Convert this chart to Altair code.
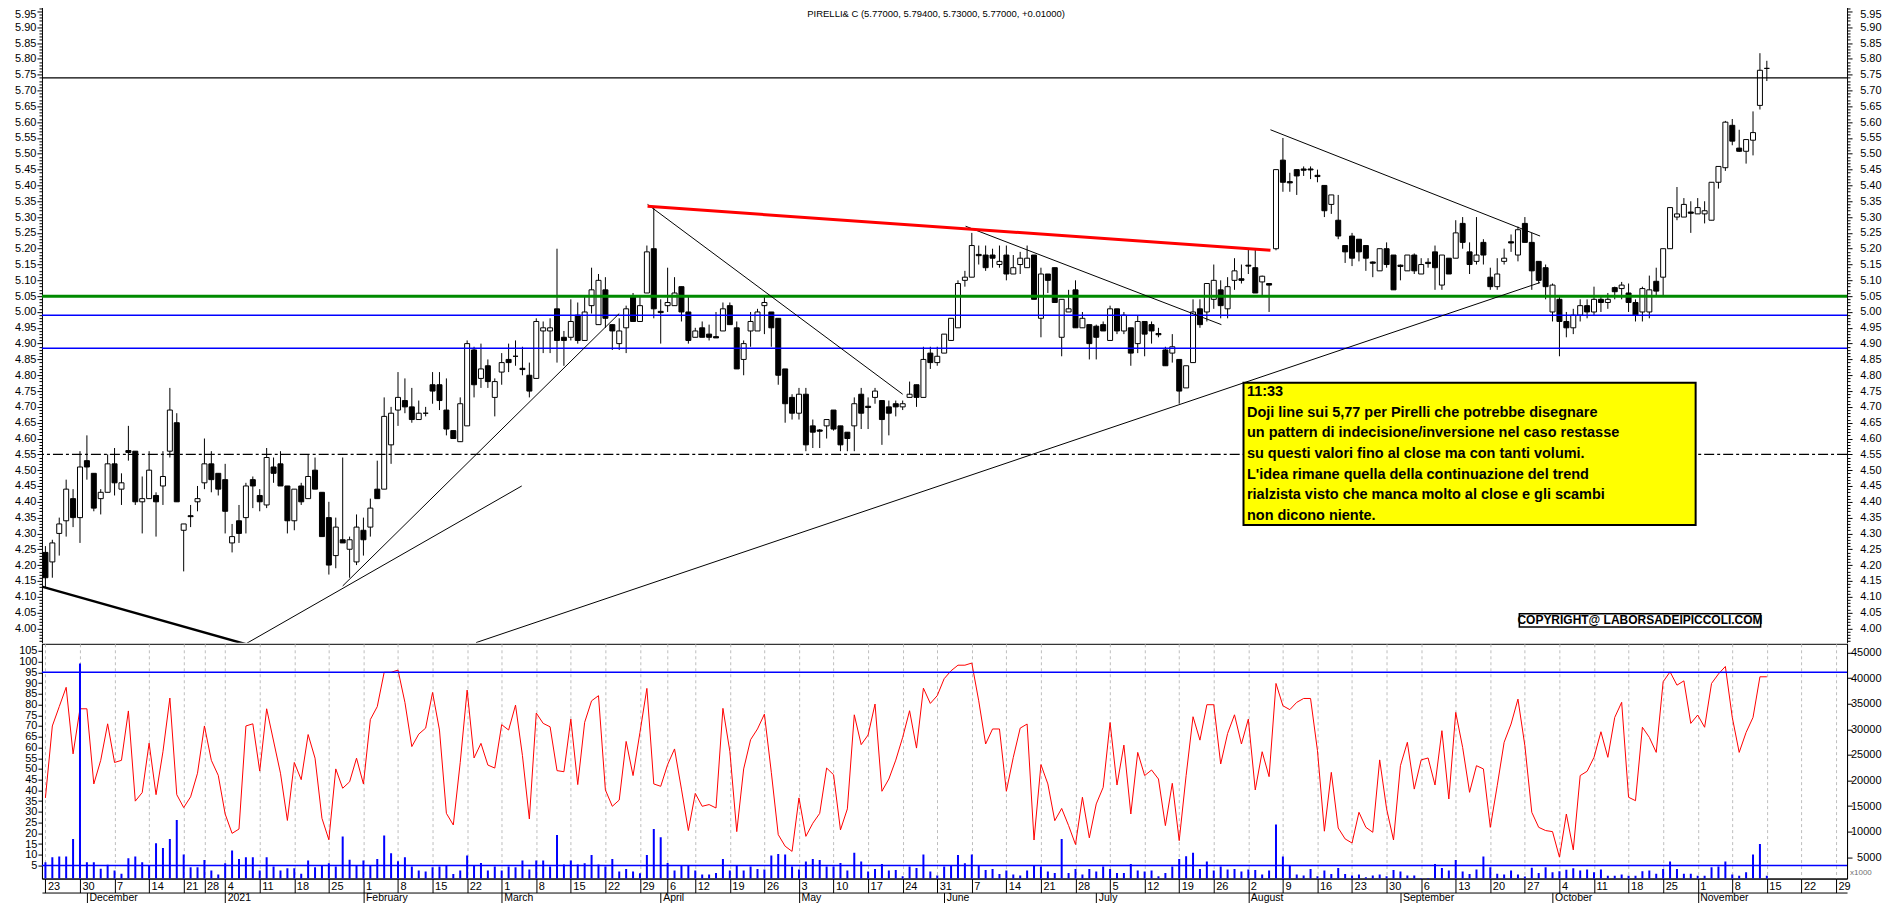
import altair as alt
import pandas as pd

# ---------------- data ----------------
OPEN = [4.24, 4.21, 4.30, 4.34, 4.41, 4.35, 4.53, 4.49, 4.41, 4.43,
        4.52, 4.44, 4.562, 4.56, 4.40, 4.41, 4.42, 4.45, 4.56, 4.65,
        4.31, 4.356, 4.40, 4.46, 4.52, 4.49, 4.47, 4.27, 4.34, 4.35,
        4.47, 4.42, 4.39, 4.51, 4.52, 4.45, 4.34, 4.45, 4.41, 4.50,
        4.43, 4.35, 4.23, 4.28, 4.25, 4.21, 4.31, 4.32, 4.44, 4.44,
        4.58, 4.69, 4.72, 4.70, 4.66, 4.68, 4.77, 4.77, 4.69, 4.625,
        4.59, 4.64, 4.88, 4.79, 4.83, 4.73, 4.81, 4.85, 4.86, 4.822,
        4.80, 4.79, 4.94, 4.94, 5.01, 4.92, 4.92, 4.99, 4.91, 5.02,
        4.96, 5.07, 4.96, 4.90, 4.95, 5.05, 4.97, 5.06, 5.20, 5.002,
        5.02, 5.02, 5.08, 5.00, 4.92, 4.95, 4.93, 4.922, 4.94, 5.02,
        4.95, 4.85, 4.94, 4.94, 5.02, 5.00, 4.98, 4.82, 4.73, 4.68,
        4.74, 4.64, 4.627, 4.64, 4.69, 4.64, 4.62, 4.64, 4.74, 4.702,
        4.73, 4.72, 4.70, 4.71, 4.70, 4.73, 4.77, 4.73, 4.87, 4.84,
        4.87, 4.91, 4.95, 5.10, 5.11, 5.182, 5.18, 5.18, 5.15, 5.18,
        5.12, 5.15, 5.14, 5.18, 4.98, 5.12, 5.14, 4.92, 5.00, 5.07,
        4.95, 4.96, 4.955, 4.96, 4.91, 5.01, 4.94, 4.95, 4.90, 4.97,
        4.96, 4.932, 4.88, 4.87, 4.85, 4.76, 4.84, 5.01, 5.00, 5.04,
        5.07, 5.01, 5.10, 5.105, 5.148, 5.14, 5.095, 5.09, 5.20, 5.48,
        5.412, 5.45, 5.452, 5.452, 5.432, 5.40, 5.34, 5.29, 5.21, 5.24,
        5.23, 5.21, 5.158, 5.13, 5.20, 5.18, 5.148, 5.13, 5.18, 5.12,
        5.157, 5.19, 5.085, 5.17, 5.17, 5.28, 5.19, 5.16, 5.22, 5.11,
        5.08, 5.16, 5.222, 5.18, 5.28, 5.22, 5.16, 5.14, 5.00, 5.04,
        4.97, 4.95, 4.99, 5.02, 5.00, 5.04, 5.03, 5.077, 5.074, 5.06,
        5.03, 5.00, 5.00, 5.097, 5.11, 5.20, 5.30, 5.30, 5.316, 5.31,
        5.31, 5.29, 5.41, 5.456, 5.59, 5.518, 5.508, 5.543, 5.653, 5.77]
HIGH = [4.26, 4.28, 4.35, 4.47, 4.44, 4.56, 4.61, 4.49, 4.44, 4.55,
        4.57, 4.49, 4.64, 4.56, 4.48, 4.56, 4.43, 4.56, 4.76, 4.68,
        4.33, 4.39, 4.45, 4.60, 4.56, 4.49, 4.52, 4.33, 4.39, 4.46,
        4.48, 4.44, 4.57, 4.54, 4.56, 4.45, 4.44, 4.46, 4.55, 4.54,
        4.43, 4.40, 4.35, 4.54, 4.29, 4.36, 4.35, 4.41, 4.53, 4.73,
        4.70, 4.81, 4.79, 4.76, 4.72, 4.70, 4.81, 4.81, 4.79, 4.625,
        4.73, 4.91, 4.89, 4.90, 4.85, 4.79, 4.87, 4.90, 4.91, 4.89,
        4.84, 4.98, 4.97, 4.98, 5.20, 4.94, 5.04, 5.03, 5.05, 5.14,
        5.12, 5.11, 4.96, 4.98, 5.02, 5.06, 5.05, 5.21, 5.33, 5.04,
        5.14, 5.11, 5.08, 5.05, 4.95, 4.97, 4.96, 5.00, 5.03, 5.03,
        4.97, 4.91, 5.00, 5.01, 5.05, 5.00, 4.98, 4.82, 4.74, 4.76,
        4.76, 4.66, 4.63, 4.66, 4.69, 4.64, 4.62, 4.73, 4.76, 4.73,
        4.76, 4.72, 4.72, 4.72, 4.72, 4.78, 4.77, 4.89, 4.89, 4.89,
        4.93, 4.98, 5.10, 5.13, 5.25, 5.21, 5.21, 5.20, 5.21, 5.21,
        5.18, 5.19, 5.21, 5.18, 5.14, 5.12, 5.14, 5.04, 5.07, 5.10,
        5.00, 4.96, 4.96, 4.97, 5.02, 5.01, 5.00, 4.95, 4.99, 4.97,
        4.97, 4.95, 4.89, 4.93, 4.85, 4.83, 5.04, 5.04, 5.09, 5.15,
        5.10, 5.11, 5.17, 5.15, 5.20, 5.20, 5.115, 5.09, 5.45, 5.55,
        5.44, 5.45, 5.46, 5.46, 5.45, 5.40, 5.37, 5.37, 5.21, 5.25,
        5.23, 5.21, 5.16, 5.20, 5.22, 5.18, 5.15, 5.18, 5.185, 5.17,
        5.17, 5.21, 5.18, 5.17, 5.29, 5.30, 5.22, 5.30, 5.23, 5.14,
        5.17, 5.20, 5.245, 5.27, 5.30, 5.25, 5.16, 5.15, 5.09, 5.05,
        5.00, 5.01, 5.04, 5.04, 5.08, 5.05, 5.06, 5.08, 5.095, 5.09,
        5.04, 5.08, 5.115, 5.14, 5.20, 5.33, 5.395, 5.36, 5.35, 5.36,
        5.35, 5.41, 5.46, 5.604, 5.61, 5.576, 5.545, 5.634, 5.818, 5.794]
LOW = [4.13, 4.16, 4.23, 4.29, 4.32, 4.27, 4.47, 4.37, 4.36, 4.43,
       4.42, 4.39, 4.53, 4.39, 4.30, 4.41, 4.29, 4.39, 4.54, 4.40,
       4.18, 4.32, 4.37, 4.44, 4.43, 4.42, 4.30, 4.24, 4.27, 4.30,
       4.38, 4.37, 4.38, 4.46, 4.45, 4.30, 4.31, 4.39, 4.41, 4.44,
       4.29, 4.17, 4.19, 4.27, 4.16, 4.20, 4.23, 4.29, 4.41, 4.44,
       4.52, 4.64, 4.68, 4.65, 4.66, 4.67, 4.71, 4.69, 4.61, 4.60,
       4.59, 4.64, 4.73, 4.76, 4.76, 4.67, 4.77, 4.81, 4.83, 4.80,
       4.73, 4.79, 4.87, 4.87, 4.84, 4.83, 4.91, 4.90, 4.91, 4.995,
       4.96, 4.95, 4.88, 4.88, 4.87, 4.97, 4.97, 5.06, 4.98, 4.90,
       5.00, 5.02, 4.97, 4.90, 4.92, 4.92, 4.91, 4.92, 4.94, 4.96,
       4.82, 4.80, 4.89, 4.94, 4.93, 4.89, 4.77, 4.65, 4.66, 4.66,
       4.56, 4.57, 4.57, 4.60, 4.625, 4.56, 4.56, 4.56, 4.63, 4.63,
       4.71, 4.58, 4.61, 4.67, 4.69, 4.73, 4.70, 4.73, 4.82, 4.83,
       4.87, 4.91, 4.95, 5.08, 5.11, 5.15, 5.13, 5.14, 5.14, 5.10,
       5.12, 5.12, 5.14, 5.04, 4.92, 5.06, 5.03, 4.86, 5.00, 4.95,
       4.95, 4.85, 4.85, 4.94, 4.91, 4.93, 4.93, 4.83, 4.87, 4.86,
       4.90, 4.92, 4.83, 4.84, 4.71, 4.76, 4.84, 4.95, 4.97, 5.01,
       4.98, 4.98, 5.07, 5.09, 5.12, 5.06, 5.05, 5.00, 5.195, 5.38,
       5.38, 5.37, 5.43, 5.42, 5.41, 5.30, 5.31, 5.23, 5.155, 5.145,
       5.16, 5.13, 5.11, 5.13, 5.14, 5.07, 5.10, 5.13, 5.12, 5.12,
       5.14, 5.07, 5.07, 5.12, 5.17, 5.20, 5.12, 5.15, 5.15, 5.07,
       5.07, 5.15, 5.19, 5.16, 5.22, 5.07, 5.09, 5.04, 4.97, 4.86,
       4.92, 4.93, 4.97, 4.98, 4.99, 5.00, 5.01, 5.04, 5.04, 5.00,
       4.97, 4.97, 4.98, 5.05, 5.05, 5.20, 5.29, 5.30, 5.25, 5.31,
       5.28, 5.29, 5.39, 5.446, 5.527, 5.506, 5.469, 5.495, 5.64, 5.73]
CLOSE = [4.16, 4.27, 4.33, 4.44, 4.35, 4.51, 4.51, 4.38, 4.43, 4.52,
         4.46, 4.46, 4.556, 4.40, 4.41, 4.50, 4.40, 4.48, 4.69, 4.40,
         4.33, 4.353, 4.41, 4.52, 4.47, 4.44, 4.37, 4.29, 4.30, 4.45,
         4.45, 4.40, 4.54, 4.49, 4.45, 4.34, 4.44, 4.40, 4.48, 4.44,
         4.29, 4.20, 4.32, 4.27, 4.28, 4.32, 4.28, 4.38, 4.41, 4.67,
         4.68, 4.73, 4.70, 4.66, 4.68, 4.68, 4.75, 4.72, 4.63, 4.60,
         4.71, 4.90, 4.77, 4.82, 4.78, 4.78, 4.84, 4.84, 4.86, 4.818,
         4.75, 4.97, 4.95, 4.95, 4.91, 4.91, 4.97, 4.91, 5.00, 5.07,
         5.10, 4.98, 4.94, 4.94, 5.01, 4.97, 5.02, 5.19, 5.01, 4.998,
         5.03, 5.06, 5.00, 4.91, 4.94, 4.92, 4.92, 4.918, 5.01, 4.96,
         4.82, 4.90, 4.97, 5.00, 5.03, 4.95, 4.80, 4.71, 4.68, 4.74,
         4.58, 4.62, 4.623, 4.66, 4.63, 4.58, 4.60, 4.71, 4.68, 4.698,
         4.75, 4.66, 4.68, 4.70, 4.71, 4.74, 4.73, 4.85, 4.84, 4.86,
         4.93, 4.98, 5.09, 5.11, 5.21, 5.178, 5.14, 5.17, 5.16, 5.12,
         5.14, 5.17, 5.17, 5.04, 5.12, 5.10, 5.03, 5.04, 5.01, 4.95,
         4.98, 4.90, 4.92, 4.94, 5.01, 4.94, 4.99, 4.87, 4.97, 4.93,
         4.94, 4.928, 4.83, 4.89, 4.75, 4.83, 5.00, 4.96, 5.09, 5.10,
         5.02, 5.08, 5.13, 5.10, 5.145, 5.06, 5.113, 5.085, 5.45, 5.41,
         5.408, 5.43, 5.448, 5.449, 5.428, 5.32, 5.37, 5.24, 5.19, 5.17,
         5.19, 5.17, 5.154, 5.20, 5.15, 5.07, 5.144, 5.18, 5.13, 5.15,
         5.153, 5.14, 5.18, 5.12, 5.25, 5.22, 5.15, 5.18, 5.18, 5.08,
         5.12, 5.17, 5.218, 5.26, 5.22, 5.13, 5.10, 5.08, 5.085, 4.97,
         4.95, 4.99, 5.02, 5.00, 5.04, 5.03, 5.04, 5.064, 5.085, 5.03,
         4.99, 5.074, 5.07, 5.066, 5.20, 5.33, 5.31, 5.34, 5.312, 5.33,
         5.32, 5.41, 5.46, 5.60, 5.54, 5.508, 5.545, 5.567, 5.764, 5.77]
OSC = [36.5, 70, 79, 88, 57, 78, 78, 43, 54, 71,
       53, 54, 77, 35, 39, 62, 38, 58, 83, 38,
       32, 37, 48, 70, 54, 47, 29, 20, 22, 70,
       71, 49, 78, 63, 48, 26, 53, 45, 66, 55,
       27, 17, 50, 41, 44, 55, 43, 73, 79, 95,
       95, 96, 81, 60.4, 66.2, 69, 85.6, 68.1, 29.3, 23.9,
       53, 86.7, 55.1, 61.9, 51.8, 50.4, 70.6, 68.1, 79.7, 56.2,
       26.7, 76, 71.2, 69.6, 49.2, 48.7, 73.2, 42.7, 71.7, 81.7,
       84.1, 40.2, 32.6, 35.5, 62.8, 46.9, 67, 87.5, 43, 41.9,
       52, 59.3, 40.6, 21.3, 38.6, 32.6, 33.4, 31.8, 78.2, 58.2,
       20.8, 50, 63.6, 68.6, 75.5, 48.4, 19.4, 14, 11.6, 36.5,
       18.6, 24.7, 29.3, 50.4, 47.3, 21.6, 31.4, 75.2, 61.3, 65.8,
       80.2, 39.6, 45.3, 54.1, 64.7, 77.1, 59.7, 87.6, 80.5, 84.1,
       92, 95.7, 98.3, 98.3, 99.3, 81.7, 61.6, 68.6, 68.6, 39.6,
       55.4, 69, 70.9, 16.9, 52, 43, 25.9, 31.6, 23.6, 14.8,
       36.8, 17.9, 33.7, 41.4, 71.6, 42.5, 61.1, 29, 57.7, 46.9,
       49.5, 45.3, 23.6, 43.3, 16.6, 46.9, 74.3, 63.4, 79.9, 79.9,
       52.3, 66.5, 75.2, 61.6, 73.2, 40.2, 58, 46.4, 89.8, 79.4,
       77.6, 81, 82.8, 82.8, 58.5, 21, 48.4, 22.5, 17.4, 15.5,
       29.8, 22.8, 20.5, 54.2, 31.4, 16.9, 51.5, 62.4, 40.6, 54.2,
       55.1, 42.5, 67.8, 36, 76.3, 60, 39.1, 51.5, 50, 22.8,
       42.2, 62.4, 70.9, 82.5, 60.8, 29.8, 22.8, 21.3, 20.8, 8.9,
       29, 12.3, 46.9, 48.9, 55.4, 67.3, 55.4, 74, 81, 36.8,
       35.2, 69.4, 64.7, 57.7, 90.6, 95.2, 89, 91, 71.2, 75.1,
       69.4, 89.8, 94.2, 97.7, 74, 57.7, 67, 74, 92.9, 92.9]
VOLUME = [4025, 5000, 5130, 5130, 8590, 42850, 4025, 4025, 2740, 3520,
          2420, 1770, 4800, 5130, 4025, 3370, 7730, 6820, 8590, 12290,
          5520, 3070, 3070, 4480, 2420, 1640, 3830, 6300, 4670, 5000,
          5000, 2420, 5000, 3180, 2420, 2860, 2860, 1770, 4350, 3070,
          3370, 3830, 3180, 9050, 4540, 3370, 4350, 3370, 4670, 9240,
          5780, 4220, 5000, 3185, 2400, 2200, 3050, 3185, 3510, 1750,
          2400, 5330, 3510, 3900, 2400, 3185, 2400, 3185, 3050, 4350,
          2600, 4350, 4350, 3185, 9360, 3580, 4350, 3580, 3830, 5460,
          3580, 3185, 4680, 2200, 2730, 2200, 1880, 5460, 10530, 8900,
          3900, 2400, 3510, 3510, 2400, 1620, 1620, 1940, 4680, 2400,
          3510, 2400, 3185, 2730, 2600, 5330, 5650, 5530, 3185, 2600,
          4160, 4680, 4480, 3185, 3185, 3900, 2400, 5860, 4160, 2200,
          2730, 3700, 2400, 2530, 1290, 3185, 2920, 5530, 2200, 1420,
          3185, 3510, 5460, 3830, 5530, 3510, 2530, 2730, 1750, 2400,
          1620, 1420, 2400, 3510, 3185, 2200, 1940, 8590, 1940, 2730,
          1620, 2730, 2200, 3185, 2730, 1940, 1940, 3700, 2400, 2200,
          2400, 1290, 1940, 3185, 4680, 5200, 5860, 2730, 4160, 2400,
          3185, 2600, 2730, 2200, 2600, 2530, 1620, 2400, 11380, 5140,
          3510, 1620, 1420, 2730, 1290, 2400, 1750, 2920, 1750, 1420,
          1620, 1100, 1420, 1620, 1290, 2530, 2200, 1420, 1420, 970,
          970, 3700, 2920, 2400, 4480, 2200, 1750, 2600, 5140, 3050,
          1760, 1630, 2400, 1630, 1230, 2930, 1950, 3050, 2070, 2270,
          2540, 2860, 2400, 2600, 2070, 2600, 1370, 1370, 1630, 1370,
          1370, 2270, 2400, 1760, 2730, 4160, 2730, 1760, 1760, 1370,
          1370, 3050, 3180, 4160, 1630, 1370, 2070, 5530, 7610, 1370]

HOLIDAYS = ["2020-12-24", "2020-12-25", "2020-12-31", "2021-01-01",
            "2021-04-02", "2021-04-05"]
MONTHS = ["January", "February", "March", "April", "May", "June", "July",
          "August", "September", "October", "November", "December"]

# horizontal levels
LEVEL_BLACK = [5.74]
LEVEL_GREEN = [5.05]
LEVEL_BLUE = [4.99, 4.885]
LEVEL_DASHDOT = [4.55]
OSC_LEVELS = [95, 5]

# trend lines (session index, price)
LINE_NAME = ["base", "feb", "jan", "apr", "res", "jun", "sup", "aug"]
LINE_STYLE = ["thick", "thin", "thin", "thin", "red", "thin", "thin", "thin"]
LINE_X0 = [-0.5, 28.9, 43.0, 87.1, 87.1, 133.1, 62.3, 177.2]
LINE_P0 = [4.132, 3.950, 4.134, 5.340, 5.334, 5.271, 3.955, 5.576]
LINE_X1 = [29.0, 68.9, 83.0, 124.0, 177.2, 170.1, 216.2, 216.2]
LINE_P1 = [3.950, 4.450, 4.995, 4.740, 5.195, 4.960, 5.093, 5.240]

TITLE = "PIRELLI& C (5.77000, 5.79400, 5.73000, 5.77000, +0.01000)"
NOTE_LINES = ["11:33",
              "Doji line sui 5,77 per Pirelli che potrebbe disegnare",
              "un pattern di indecisione/inversione nel caso restasse",
              "su questi valori fino al close ma con tanti volumi.",
              "L'idea rimane quella della continuazione del trend",
              "rialzista visto che manca molto al close e gli scambi",
              "non dicono niente."]
NOTE_BOX = {"x": 173.3, "x2": 238.7, "y": 4.776, "y2": 4.327}
NOTE_TEXT_POS = {"x": 173.8, "y": 4.747}
COPY_TEXT = "COPYRIGHT@ LABORSADEIPICCOLI.COM"
COPY_BOX = {"x": 213.2, "x2": 248.1, "y": 4.046, "y2": 4.004}
TITLE_X = 110.2

# ---------------- calendar / axis helpers ----------------
sessions = pd.bdate_range("2020-11-23", "2021-11-29", freq="C", holidays=HOLIDAYS)
week_idx, last = [], None
for i, d in enumerate(sessions):
    iso = d.isocalendar()
    key = (iso[0], iso[1])
    if key != last:
        week_idx.append(i)
        last = key
month_idx = [i for i in range(1, len(sessions)) if sessions[i].month != sessions[i - 1].month]
month_lab = [""] * len(sessions)
for i in month_idx:
    d = sessions[i]
    month_lab[i] = str(d.year) if d.month == 1 else MONTHS[d.month - 1]
day_lab = [str(d.day) for d in sessions]


def js_array(lst):
    return "[" + ",".join("'" + s + "'" for s in lst) + "]"


day_expr = js_array(day_lab) + "[datum.value]"
month_expr = js_array(month_lab) + "[datum.value]"

n = len(OPEN)
df = pd.DataFrame({"idx": list(range(n)),
                   "date": sessions[:n].strftime("%Y-%m-%d"),
                   "open": OPEN, "high": HIGH, "low": LOW, "close": CLOSE,
                   "osc": OSC, "volume": VOLUME})

lines_rows = []
for name, sty, x0, p0, x1, p1 in zip(LINE_NAME, LINE_STYLE, LINE_X0, LINE_P0, LINE_X1, LINE_P1):
    lines_rows.append({"line": name, "style": sty, "idx": x0, "price": p0})
    lines_rows.append({"line": name, "style": sty, "idx": x1, "price": p1})
lines_df = pd.DataFrame(lines_rows)

FONT = "Liberation Sans, Arial, sans-serif"
W = 1807
H_TOP = 643
H_BOT = 235
RIGHT_PAD = 29

xs = alt.Scale(domain=[-0.5, 260.6], nice=False, zero=False, padding=0)
ys = alt.Scale(domain=[3.9543, 5.9846], nice=False, zero=False, padding=0)
os_ = alt.Scale(domain=[-1.05, 108.26], nice=False, zero=False, padding=0)
vs = alt.Scale(domain=[844, 46697], nice=False, zero=False, padding=0)

price_ticks = [round(3.96 + 0.01 * i, 2) for i in range(203)]
major = "round(datum.value*100) % 5 == 0"
price_label = "(" + major + ") ? format(datum.value, '.2f') : ''"
tick_cond = {"condition": {"test": major, "value": 5}, "value": 3}
font_cond = {"condition": {"test": major, "value": 11}, "value": 0}
top_label_shift = {"condition": {"test": "datum.value > 5.94", "value": 3}, "value": 0}

x_top_axis = alt.Axis(values=week_idx, grid=True, gridDash=[3, 3], gridColor="#bdbdbd",
                      labels=False, ticks=False, domain=False, title=None)
left_price_axis = alt.Axis(orient="left", values=price_ticks, labelExpr=price_label,
                           tickSize=tick_cond, labelFontSize=font_cond, labelPadding=1,
                           labelOffset=top_label_shift,
                           labelOverlap=False, labelBound=False, grid=False, title=None)
right_price_axis = alt.Axis(orient="right", values=price_ticks, labelExpr=price_label,
                            tickSize=tick_cond, labelFontSize=font_cond, labelPadding=RIGHT_PAD,
                            labelOffset=top_label_shift,
                            labelAlign="right", labelOverlap=False, labelBound=False,
                            grid=False, title=None)

top_base = alt.Chart(df)
wicks = top_base.mark_rule(color="black", strokeWidth=1).encode(
    x=alt.X("idx:Q", scale=xs, axis=x_top_axis),
    y=alt.Y("low:Q", scale=ys, axis=left_price_axis),
    y2="high:Q")
bodies = top_base.mark_bar(size=5, stroke="black", strokeWidth=1).encode(
    x=alt.X("idx:Q", scale=xs, axis=None),
    y=alt.Y("open:Q", scale=ys, axis=None),
    y2="close:Q",
    fill=alt.condition("datum.close >= datum.open", alt.value("white"), alt.value("black")))

lvl_black = alt.Chart(pd.DataFrame({"level": LEVEL_BLACK})).mark_rule(
    color="black", strokeWidth=1.2).encode(y=alt.Y("level:Q", scale=ys, axis=right_price_axis))
lvl_green = alt.Chart(pd.DataFrame({"level": LEVEL_GREEN})).mark_rule(
    color="#008a00", strokeWidth=3).encode(y=alt.Y("level:Q", scale=ys, axis=None))
lvl_blue = alt.Chart(pd.DataFrame({"level": LEVEL_BLUE})).mark_rule(
    color="#0000ff", strokeWidth=1.5).encode(y=alt.Y("level:Q", scale=ys, axis=None))
lvl_dd = alt.Chart(pd.DataFrame({"level": LEVEL_DASHDOT})).mark_rule(
    color="black", strokeWidth=1.3, strokeDash=[10, 3, 3, 3]).encode(
    y=alt.Y("level:Q", scale=ys, axis=None))


def trend(style, color, width):
    return alt.Chart(lines_df).transform_filter(
        alt.datum.style == style).mark_line(color=color, strokeWidth=width, clip=True).encode(
        x=alt.X("idx:Q", scale=xs, axis=None),
        y=alt.Y("price:Q", scale=ys, axis=None),
        detail="line:N")


thin_lines = trend("thin", "black", 1)
thick_lines = trend("thick", "black", 2.5)
red_lines = trend("red", "#ff0000", 3)

note_box = alt.Chart(pd.DataFrame([NOTE_BOX])).mark_rect(
    fill="#ffff00", stroke="black", strokeWidth=2).encode(
    x=alt.X("x:Q", scale=xs, axis=None), x2="x2:Q",
    y=alt.Y("y:Q", scale=ys, axis=None), y2="y2:Q")
note_text = alt.Chart(pd.DataFrame([{**NOTE_TEXT_POS, "txt": "\n".join(NOTE_LINES)}])).mark_text(
    align="left", baseline="middle", font=FONT, fontSize=14.5, fontWeight="bold",
    lineBreak="\n", lineHeight=20.7, color="black").encode(
    x=alt.X("x:Q", scale=xs, axis=None), y=alt.Y("y:Q", scale=ys, axis=None), text="txt:N")

copy_box = alt.Chart(pd.DataFrame([COPY_BOX])).mark_rect(
    fill="white", stroke="black", strokeWidth=1.5).encode(
    x=alt.X("x:Q", scale=xs, axis=None), x2="x2:Q",
    y=alt.Y("y:Q", scale=ys, axis=None), y2="y2:Q")
copy_text = alt.Chart(pd.DataFrame([{"x": (COPY_BOX["x"] + COPY_BOX["x2"]) / 2,
                                     "y": (COPY_BOX["y"] + COPY_BOX["y2"]) / 2,
                                     "txt": COPY_TEXT}])).mark_text(
    align="center", baseline="middle", font=FONT, fontSize=12, fontWeight="bold",
    color="black").encode(
    x=alt.X("x:Q", scale=xs, axis=None), y=alt.Y("y:Q", scale=ys, axis=None), text="txt:N")

title_text = alt.Chart(pd.DataFrame([{"x": TITLE_X, "txt": TITLE}])).mark_text(
    align="left", baseline="top", font=FONT, fontSize=9.5, color="black").encode(
    x=alt.X("x:Q", scale=xs, axis=None), y=alt.value(9), text="txt:N")

top = alt.layer(wicks, bodies, lvl_black, lvl_green, lvl_blue, lvl_dd,
                thin_lines, thick_lines, red_lines,
                note_box, note_text, copy_box, copy_text, title_text).resolve_axis(
    y="independent").properties(width=W, height=H_TOP)

# ---------------- bottom panel ----------------
day_axis = alt.Axis(orient="bottom", values=week_idx, labelExpr=day_expr, labelAlign="left",
                    labelOffset=2, labelBaseline="top", labelPadding=-12, tickSize=14,
                    grid=True, gridDash=[3, 3], gridColor="#bdbdbd", labelOverlap=False,
                    labelFlush=False, labelBound=False, title=None)
month_axis = alt.Axis(orient="bottom", offset=14, values=month_idx, labelExpr=month_expr,
                      labelAlign="left", labelOffset=2, labelBaseline="top", labelPadding=-11,
                      labelFontSize=10.5, tickSize=11, grid=False, labelOverlap=False,
                      labelFlush=False, labelBound=False, title=None)
osc_axis = alt.Axis(orient="left", values=list(range(5, 106, 5)), tickSize=4, labelPadding=1,
                    grid=False, labelOverlap=False, title=None)
vol_axis = alt.Axis(orient="right", values=list(range(5000, 45001, 5000)), format="d",
                    tickSize=5, labelPadding=RIGHT_PAD, labelAlign="right", grid=False,
                    labelOverlap=False, title=None)

osc_line = alt.Chart(df).mark_line(color="#ff0000", strokeWidth=1).encode(
    x=alt.X("idx:Q", scale=xs, axis=day_axis),
    y=alt.Y("osc:Q", scale=os_, axis=osc_axis))
osc_lv = alt.Chart(pd.DataFrame({"level": OSC_LEVELS})).mark_rule(
    color="#0000ff", strokeWidth=1.5).encode(y=alt.Y("level:Q", scale=os_, axis=None))
vol_bars = alt.Chart(df).mark_bar(color="#0000ff", size=2, clip=True).encode(
    x=alt.X("idx:Q", scale=xs, axis=month_axis),
    y=alt.Y("volume:Q", scale=vs, axis=vol_axis))
x1000 = alt.Chart(pd.DataFrame({"t": ["x1000"]})).mark_text(
    align="left", baseline="middle", font=FONT, fontSize=8, color="#707070").encode(
    x=alt.value(W + 3), y=alt.value(229), text="t:N")

bottom = alt.layer(osc_line, osc_lv, vol_bars, x1000).resolve_scale(
    y="independent").resolve_axis(x="independent", y="independent").properties(
    width=W, height=H_BOT, view=alt.ViewBackground(stroke="black", strokeWidth=1))

chart = alt.vconcat(top, bottom, spacing=0).properties(
    padding={"left": 6, "top": -8, "right": 0, "bottom": 0}
).configure_view(stroke=None).configure_axis(
    labelFont=FONT, labelFontSize=11, labelColor="black", tickColor="black",
    domainColor="black", domainWidth=1)

chart.save("out.html", embed_options={"renderer": "svg", "actions": False})
